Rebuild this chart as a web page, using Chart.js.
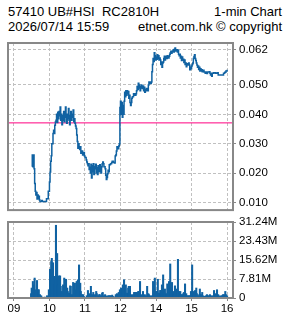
<!DOCTYPE html>
<html>
<head>
<meta charset="utf-8">
<script src="https://cdn.jsdelivr.net/npm/chart.js@4/dist/chart.umd.min.js"></script>
<style>
  html, body { margin: 0; padding: 0; background: #fff; }
  #wrap { position: relative; width: 285px; height: 318px; overflow: hidden; }
  .hdr { position: absolute; font: 13px "Liberation Sans", Arial, sans-serif; color: #000; white-space: pre; line-height: 15px; }
  #priceChart { position: absolute; left: 0; top: 0; }
  #volChart { position: absolute; left: 0; top: 210px; }
</style>
</head>
<body>
<div id="wrap">
  <div class="hdr" style="left:8px;top:4px">57410 UB#HSI  RC2810H</div>
  <div class="hdr" style="right:3px;top:4px">1-min Chart</div>
  <div class="hdr" style="left:8px;top:19px">2026/07/14 15:59</div>
  <div class="hdr" style="right:3px;top:19px">etnet.com.hk © copyright</div>
  <canvas id="priceChart" width="285" height="220"></canvas>
  <canvas id="volChart" width="285" height="108"></canvas>
</div>
<script>
// x axis = trading minutes since 09:00 (lunch break removed)
const hourTicks = [0, 60, 120, 180, 240, 300, 360];
const hourLabels = ['09', '10', '11', '12', '14', '15', '16'];
const priceTicks = [0.010, 0.020, 0.030, 0.040, 0.050, 0.062];
const volTicks = [0, 7.81, 15.62, 23.43, 31.24];
const volTickLabels = ['0', '7.81M', '15.62M', '23.43M', '31.24M'];
const refPrice = 0.0371;

const priceMinutes = [
  30, 31, 32, 33, 34, 35, 36, 37, 38, 39, 40, 41, 42, 43, 44, 47, 48, 55, 58, 60,
  61, 62, 63, 64, 66, 67, 68, 69, 70, 71, 72, 73, 74, 75, 76, 77, 78, 79, 80, 81,
  82, 83, 84, 85, 86, 87, 88, 89, 90, 91, 92, 93, 94, 95, 96, 97, 98, 99, 100, 101,
  102, 103, 104, 105, 106, 107, 108, 109, 110, 111, 112, 113, 114, 116, 118, 119, 120, 122, 123, 124,
  125, 126, 127, 128, 129, 130, 131, 132, 133, 134, 135, 136, 137, 138, 139, 140, 141, 142, 143, 144,
  145, 146, 147, 148, 149, 150, 151, 152, 154, 155, 156, 157, 158, 159, 160, 161, 163, 165, 166, 168,
  170, 171, 172, 173, 174, 176, 177, 178, 179, 180, 181, 182, 183, 184, 185, 186, 187, 188, 189, 190,
  191, 192, 193, 194, 195, 196, 197, 198, 199, 200, 202, 204, 206, 207, 208, 209, 210, 211, 212, 213,
  214, 215, 216, 217, 218, 219, 220, 221, 222, 223, 224, 226, 227, 228, 230, 232, 233, 234, 235, 236,
  237, 238, 239, 240, 241, 242, 243, 244, 245, 246, 247, 248, 249, 250, 251, 252, 253, 254, 255, 256,
  257, 258, 259, 260, 262, 263, 264, 265, 266, 267, 268, 269, 270, 271, 272, 273, 275, 276, 277, 278,
  279, 280, 281, 282, 283, 284, 285, 286, 287, 288, 289, 290, 291, 292, 294, 295, 296, 297, 298, 299,
  300, 301, 302, 303, 304, 305, 306, 307, 308, 309, 310, 311, 312, 313, 314, 315, 316, 317, 318, 320,
  321, 323, 325, 326, 327, 330, 331, 332, 333, 334, 335, 337, 340, 343, 345, 352, 354, 356, 358, 360
];
const prices = [
  0.0223, 0.0262, 0.0222, 0.0262, 0.0215, 0.0165, 0.0138, 0.0125, 0.0134, 0.0112, 0.0125, 0.0113, 0.0121, 0.0108, 0.0103, 0.0107, 0.0103, 0.0113, 0.0138, 0.0170,
  0.0204, 0.0240, 0.0259, 0.0300, 0.0335, 0.0346, 0.0335, 0.0363, 0.0374, 0.0380, 0.0400, 0.0372, 0.0407, 0.0385, 0.0410, 0.0395, 0.0425, 0.0380, 0.0400, 0.0365,
  0.0395, 0.0380, 0.0410, 0.0375, 0.0395, 0.0425, 0.0390, 0.0370, 0.0400, 0.0385, 0.0420, 0.0380, 0.0365, 0.0395, 0.0410, 0.0380, 0.0400, 0.0390, 0.0415, 0.0375,
  0.0385, 0.0370, 0.0360, 0.0352, 0.0330, 0.0308, 0.0285, 0.0300, 0.0290, 0.0280, 0.0290, 0.0268, 0.0275, 0.0262, 0.0270, 0.0258, 0.0253, 0.0245, 0.0238, 0.0232,
  0.0225, 0.0232, 0.0212, 0.0220, 0.0200, 0.0230, 0.0183, 0.0225, 0.0205, 0.0232, 0.0195, 0.0222, 0.0215, 0.0230, 0.0200, 0.0218, 0.0195, 0.0225, 0.0210, 0.0205,
  0.0228, 0.0215, 0.0200, 0.0222, 0.0232, 0.0238, 0.0232, 0.0222, 0.0215, 0.0193, 0.0178, 0.0185, 0.0198, 0.0210, 0.0205, 0.0228, 0.0232, 0.0236, 0.0240, 0.0236,
  0.0234, 0.0258, 0.0262, 0.0275, 0.0290, 0.0283, 0.0292, 0.0300, 0.0423, 0.0445, 0.0400, 0.0440, 0.0390, 0.0430, 0.0400, 0.0445, 0.0475, 0.0460, 0.0480, 0.0465,
  0.0480, 0.0470, 0.0478, 0.0455, 0.0465, 0.0440, 0.0430, 0.0440, 0.0455, 0.0460, 0.0470, 0.0465, 0.0470, 0.0480, 0.0495, 0.0485, 0.0506, 0.0500, 0.0490, 0.0480,
  0.0495, 0.0500, 0.0490, 0.0488, 0.0497, 0.0480, 0.0492, 0.0475, 0.0485, 0.0480, 0.0488, 0.0480, 0.0500, 0.0510, 0.0505, 0.0510, 0.0545, 0.0570, 0.0590, 0.0580,
  0.0610, 0.0600, 0.0585, 0.0595, 0.0588, 0.0603, 0.0590, 0.0600, 0.0585, 0.0592, 0.0585, 0.0570, 0.0578, 0.0560, 0.0575, 0.0578, 0.0590, 0.0598, 0.0585, 0.0592,
  0.0598, 0.0590, 0.0600, 0.0592, 0.0598, 0.0605, 0.0610, 0.0615, 0.0608, 0.0612, 0.0616, 0.0620, 0.0612, 0.0622, 0.0626, 0.0616, 0.0620, 0.0612, 0.0618, 0.0605,
  0.0600, 0.0605, 0.0592, 0.0598, 0.0583, 0.0595, 0.0585, 0.0588, 0.0577, 0.0585, 0.0570, 0.0575, 0.0562, 0.0572, 0.0568, 0.0575, 0.0568, 0.0552, 0.0560, 0.0555,
  0.0565, 0.0570, 0.0575, 0.0590, 0.0597, 0.0603, 0.0590, 0.0583, 0.0575, 0.0568, 0.0560, 0.0565, 0.0553, 0.0560, 0.0548, 0.0555, 0.0548, 0.0552, 0.0545, 0.0550,
  0.0544, 0.0540, 0.0544, 0.0539, 0.0544, 0.0545, 0.0540, 0.0534, 0.0540, 0.0530, 0.0540, 0.0542, 0.0540, 0.0542, 0.0534, 0.0534, 0.0540, 0.0543, 0.0548, 0.0552
];

// volume in millions
const volMinutes = [
  29, 30, 32, 34, 35, 37, 39, 41, 42, 44, 46, 47, 52, 56, 57, 59,
  61, 63, 64, 66, 68, 69, 71, 73, 74, 76, 78, 79, 81, 83, 85, 86, 88, 90, 91, 93, 95, 96, 98, 100,
  101, 103, 105, 106, 108, 110, 112, 113, 115, 117, 118, 123, 125, 127, 128, 130, 132, 134, 135, 137, 139, 140, 142, 144, 145, 147, 149, 150, 152, 154, 155, 157, 159,
  161, 162, 164, 166, 167, 169, 171, 172, 174, 176, 177, 179, 181, 183, 184, 186, 188, 189, 191, 193, 194, 196, 198, 199,
  201, 203, 204, 206, 208, 210, 211, 213, 215, 216, 218, 220, 221, 223, 225, 227, 228, 230, 232, 233, 235, 237, 238, 240,
  242, 243, 245, 247, 248, 250, 252, 254, 255, 257, 259, 260, 262, 264, 265, 267, 269, 270, 272, 274, 276, 277, 279,
  281, 282, 284, 286, 287, 289, 291, 292, 294, 296, 297, 299, 301, 303, 304, 306, 308, 309, 311, 313, 314, 316, 318, 319,
  321, 323, 324, 326, 328, 330, 331, 333, 335, 336, 338, 340, 341, 343, 345, 346, 348, 350, 352, 353, 355, 357, 358, 360
];
const volumes = [
  1.8, 4.1, 6.8, 5.4, 8.2, 3.4, 7.2, 3.4, 3.4, 1.4, 0.95, 0.4, 0.4, 0.95, 0.4, 3.4,
  11.8, 15.0, 16.3, 14.5, 5.4, 8.9, 29.9, 18.3, 5.4, 9.1, 9.1, 4.8, 2.7, 5.4, 8.2, 4.8, 7.7, 4.1, 2.7, 2.0, 5.0, 4.8, 1.4, 6.4,
  4.8, 6.1, 3.4, 6.8, 7.5, 13.6, 6.1, 2.7, 1.4, 1.4, 0.7, 0.95, 3.1, 1.8, 0.95, 4.8, 1.4, 2.3, 0.95, 1.4, 2.7, 1.8, 0.95, 1.4, 1.4, 0.95, 2.0, 2.3, 0.95, 1.4, 0.95, 0.7, 0.95,
  0.95, 0.95, 0.95, 1.2, 0.7, 0.4, 0.4, 1.4, 1.8, 1.4, 2.3, 3.4, 4.1, 3.1, 5.4, 7.5, 3.4, 5.4, 2.0, 4.1, 4.8, 4.8, 1.4, 0.95,
  1.4, 2.3, 2.3, 2.3, 2.3, 2.7, 2.7, 6.8, 1.4, 0.95, 2.7, 0.95, 1.4, 0.95, 4.8, 1.8, 1.4, 0.95, 0.7, 0.95, 6.8, 3.7, 8.2, 2.7,
  2.7, 7.7, 2.0, 3.1, 3.1, 5.4, 9.5, 2.3, 3.7, 1.8, 5.8, 2.0, 6.8, 14.0, 1.8, 6.4, 2.7, 1.4, 5.0, 3.7, 1.8, 15.9, 2.7,
  2.7, 1.4, 1.4, 1.8, 2.3, 5.8, 1.8, 0.95, 0.95, 0.95, 0.95, 2.7, 13.6, 1.4, 2.7, 3.1, 4.1, 1.8, 0.95, 1.4, 3.7, 1.4, 2.3, 0.95,
  0.7, 0.7, 0.95, 1.4, 0.95, 0.95, 1.4, 0.95, 0.7, 0.95, 3.1, 0.95, 1.8, 3.4, 1.4, 0.95, 0.7, 0.95, 0.95, 1.4, 1.4, 2.7, 1.4, 0.95
];

const lineColor = '#1062a2';
const gridColor = '#c0c0c0';
const frameColor = '#888888';
const axisFont = { family: '"Liberation Sans", Arial, sans-serif', size: 11.5 };

const framePlugin = {
  id: 'frame',
  afterDraw(chart) {
    const { ctx, chartArea: a } = chart;
    ctx.save();
    ctx.strokeStyle = frameColor;
    ctx.lineWidth = 2;
    ctx.strokeRect(a.left, a.top, a.right - a.left, a.bottom - a.top);
    ctx.restore();
  }
};

const hourScale = (showLabels) => ({
  type: 'linear',
  min: -10,
  max: 370,
  offset: false,
  afterBuildTicks: (s) => { s.ticks = hourTicks.map((v) => ({ value: v })); },
  ticks: {
    display: showLabels,
    autoSkip: false,
    maxRotation: 0,
    padding: 1,
    color: '#000',
    font: axisFont,
    callback: (v, i) => hourLabels[i]
  },
  grid: { offset: false, color: gridColor, drawTicks: showLabels, tickLength: 3, tickColor: frameColor },
  border: { display: false, dash: [3, 2] },
  afterFit: (s) => { s.height = showLabels ? 20 : 0; }
});

new Chart(document.getElementById('priceChart'), {
  type: 'line',
  data: {
    datasets: [
      {
        data: priceMinutes.map((m, i) => ({ x: m, y: prices[i] })),
        borderColor: lineColor,
        borderWidth: 1.5,
        stepped: true,
        pointRadius: 0
      },
      {
        data: [{ x: -10, y: refPrice }, { x: 370, y: refPrice }],
        borderColor: '#ff0080',
        borderWidth: 1,
        pointRadius: 0
      }
    ]
  },
  options: {
    responsive: false,
    animation: false,
    devicePixelRatio: 1,
    layout: { padding: { top: 43, left: 8, right: 0, bottom: 4 } },
    plugins: { legend: { display: false }, tooltip: { enabled: false } },
    scales: {
      x: hourScale(false),
      y: {
        position: 'right',
        min: 0.0074,
        max: 0.0643,
        afterBuildTicks: (s) => { s.ticks = priceTicks.map((v) => ({ value: v })); },
        ticks: { color: '#000', font: axisFont, padding: 3, callback: (v) => v.toFixed(3) },
        grid: { color: gridColor, tickLength: 3, tickColor: frameColor },
        border: { display: false, dash: [3, 2] },
        afterFit: (s) => { s.width = 52; }
      }
    }
  },
  plugins: [framePlugin]
});

new Chart(document.getElementById('volChart'), {
  type: 'bar',
  data: {
    datasets: [{
      data: volMinutes.map((m, i) => ({ x: m, y: volumes[i] })),
      backgroundColor: lineColor,
      barThickness: 1.4,
      grouped: false
    }]
  },
  options: {
    responsive: false,
    animation: false,
    devicePixelRatio: 1,
    layout: { padding: { top: 12, left: 8, right: 0, bottom: 0 } },
    plugins: { legend: { display: false }, tooltip: { enabled: false } },
    scales: {
      x: hourScale(true),
      y: {
        position: 'right',
        min: 0,
        max: 31.24,
        afterBuildTicks: (s) => { s.ticks = volTicks.map((v) => ({ value: v })); },
        ticks: { color: '#000', font: axisFont, padding: 3, callback: (v, i) => volTickLabels[i] },
        grid: { color: gridColor, tickLength: 3, tickColor: frameColor },
        border: { display: false, dash: [3, 2] },
        afterFit: (s) => { s.width = 52; }
      }
    }
  },
  plugins: [framePlugin]
});
</script>
</body>
</html>
